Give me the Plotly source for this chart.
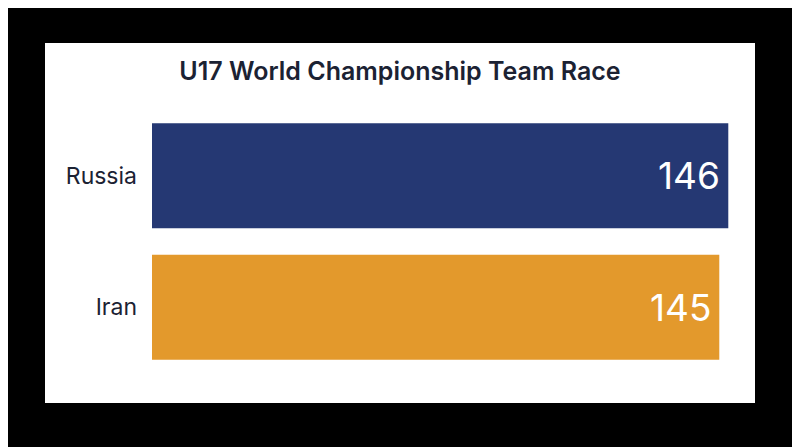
import plotly.graph_objects as go

teams = ["Russia", "Iran"]
points = [146, 145]
colors = ["#253873", "#E3992C"]
title_text = "U17 World Championship Team Race"

W, H = 800, 447
OFF = 8  # page body margin offset
L, R, T, B = 152 - OFF, 60 + OFF, 110 - OFF, 74 + OFF
pw, ph = W - L - R, H - T - B

fig = go.Figure()
fig.add_trace(go.Bar(
    y=teams, x=points, orientation="h",
    marker=dict(color=colors, line=dict(width=0)),
    hoverinfo="skip",
))
for t, v in zip(teams, points):
    fig.add_annotation(x=v, y=t, text=str(v), xanchor="right", showarrow=False,
                       xshift=-6, font=dict(family="Inter", size=37, color="white"))

# white panel behind chart
px0, px1, py0, py1 = 45 - OFF, 755 - OFF, 43 - OFF, 403 - OFF
fig.add_shape(type="rect", xref="paper", yref="paper", layer="below",
              x0=(px0 - L) / pw, x1=(px1 - L) / pw,
              y0=(H - B - py1) / ph, y1=(H - B - py0) / ph,
              fillcolor="white", line=dict(width=0))

fig.update_layout(
    width=W, height=H,
    margin=dict(l=L, r=R, t=T, b=B),
    paper_bgcolor="black", plot_bgcolor="rgba(0,0,0,0)",
    bargap=0.2, showlegend=False,
    title=dict(text=title_text, x=(400 - OFF) / W, xanchor="center",
               y=(H - (71 - OFF)) / H, yanchor="middle",
               font=dict(family="Inter", size=25, color="#1B2233", weight=600)),
    xaxis=dict(range=[82, 147.3], visible=False, fixedrange=True),
    yaxis=dict(autorange="reversed", showgrid=False, showline=False, zeroline=False,
               ticks="", ticklabelstandoff=14,
               tickfont=dict(family="Inter", size=23, color="#1B2233")),
)

fig.write_html("out.html")
